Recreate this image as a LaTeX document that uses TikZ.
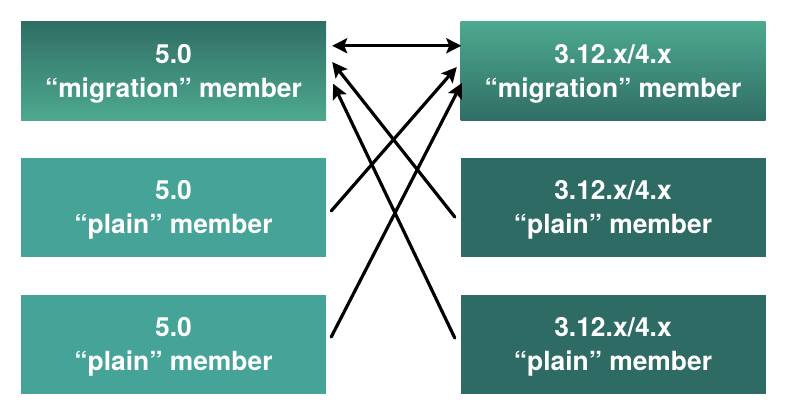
\documentclass[tikz,border=0pt]{standalone}
\usepackage{fontspec}
\setmainfont{TeX Gyre Heros}
\usetikzlibrary{arrows.meta, calc}

\definecolor{plainL}{RGB}{69,163,152}
\definecolor{plainR}{RGB}{46,107,100}
\definecolor{tealDark}{RGB}{48,110,101}
\definecolor{tealLight}{RGB}{77,169,143}

\begin{document}
\begin{tikzpicture}[x=1pt, y=-1pt, >={Stealth[length=15pt,width=15pt,inset=3pt]}, line cap=round, line join=round,
    member/.style={minimum width=305pt, minimum height=99pt, inner sep=0pt, align=center,
      text=white, text depth=0pt, font=\fontsize{26.4}{34}\selectfont\bfseries},
    link/.style={->, line width=3.2pt}]
    \useasboundingbox (0,0) rectangle (796,418);

    % 5.0 members on the left
    \node[member, top color=tealDark, bottom color=tealLight] (mig50) at (173.5,70.75) {5.0\\“migration” member};
    \node[member, fill=plainL] (plain50a) at (173.5,207.3) {5.0\\“plain” member};
    \node[member, fill=plainL] (plain50b) at (173.5,344) {5.0\\“plain” member};

    % 3.12.x/4.x members on the right
    \node[member, top color=tealLight, bottom color=tealDark] (mig312) at (613,70.75) {3.12.x/4.x\\“migration” member};
    \node[member, fill=plainR] (plain312a) at (613,207.3) {3.12.x/4.x\\“plain” member};
    \node[member, fill=plainR] (plain312b) at (613,344) {3.12.x/4.x\\“plain” member};

    % migration members talk to each other
    \draw[link, <->] ($(mig50.east)+(6,-25)$) -- ($(mig312.west)+(1,-25)$);

    % plain members only reach the migration member of the other side
    \draw[link] ($(plain312a.west)+(-5.5,9.7)$) -- ($(mig50.east)+(6,-8.75)$);
    \draw[link] ($(plain312b.west)+(-5.5,-6)$) -- ($(mig50.east)+(7,13)$);
    \draw[link] ($(plain50a.east)+(5,3.7)$) -- ($(mig312.west)+(-3.5,-3.75)$);
    \draw[link] ($(plain50b.east)+(5,-7)$) -- ($(mig312.west)+(1.5,12.25)$);
\end{tikzpicture}
\end{document}
